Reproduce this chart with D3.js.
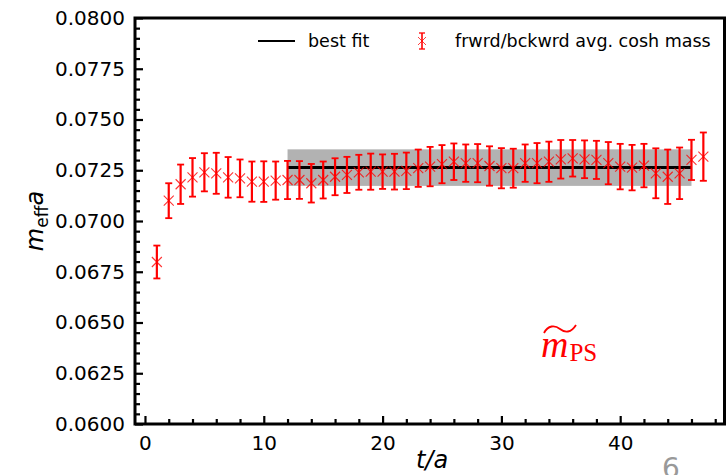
<!DOCTYPE html>
<html>
<head>
<meta charset="utf-8">
<script src="https://cdn.jsdelivr.net/npm/d3@7"></script>
<style>
  html, body { margin: 0; padding: 0; background: #fff; }
  svg { display: block; }
  text { font-family: "DejaVu Sans", sans-serif; }
</style>
</head>
<body>
<svg id="chart" width="728" height="475"></svg>
<script>
// ---- data ----
const tValues = [1,2,3,4,5,6,7,8,9,10,11,12,13,14,15,16,17,18,19,20,21,22,23,24,25,26,27,28,29,30,31,32,33,34,35,36,37,38,39,40,41,42,43,44,45,46,47];
const meffValues = [0.06798,0.0710,0.07181,0.07215,0.0724,0.07235,0.07215,0.0721,0.07194,0.07194,0.07199,0.07202,
  0.07202,0.07186,0.07202,0.07218,0.07227,0.0724,0.07243,0.07243,0.07243,0.07247,0.0726,0.07268,0.0728,
  0.07292,0.07285,0.07285,0.07271,0.0726,0.0726,0.07285,0.07285,0.07292,0.07304,0.07309,0.07304,
  0.07301,0.07285,0.07268,0.07263,0.07273,0.07235,0.07218,0.07235,0.07301,0.07317];
const meffErrors = [0.00081,0.00086,0.00097,0.00095,0.00094,0.00101,0.0010,0.00093,0.00099,0.0010,0.00094,0.00094,
  0.00093,0.00095,0.00091,0.00091,0.00089,0.00086,0.00089,0.00085,0.00088,0.0009,0.00092,0.00097,0.00094,
  0.0009,0.00092,0.00094,0.00097,0.00099,0.00096,0.00092,0.00099,0.00099,0.00095,0.0009,0.00093,
  0.00094,0.00104,0.00112,0.00112,0.00107,0.00123,0.00134,0.00127,0.00099,0.00119];
const fitRange = [12, 46];
const fitValue = 0.07263;
const fitError = 0.0009;
const xTicks = [0,10,20,30,40];
const yTicks = [0.0600,0.0625,0.0650,0.0675,0.0700,0.0725,0.0750,0.0775,0.0800];
const legendLabels = ["best fit", "frwrd/bckwrd avg. cosh mass"];

// ---- layout ----
const svg = d3.select("#chart");
const L = 135, R = 724.5, T = 18, B = 424;
const x = d3.scaleLinear().domain([-0.84, 48.78]).range([L, R]);
const y = d3.scaleLinear().domain([0.06, 0.08]).range([B, T]);

// fit band
svg.append("rect")
  .attr("x", x(fitRange[0])).attr("width", x(fitRange[1]) - x(fitRange[0]))
  .attr("y", y(fitValue + fitError)).attr("height", y(fitValue - fitError) - y(fitValue + fitError))
  .attr("fill", "#b2b2b2");
svg.append("line")
  .attr("x1", x(fitRange[0])).attr("x2", x(fitRange[1]))
  .attr("y1", y(fitValue)).attr("y2", y(fitValue))
  .attr("stroke", "#000").attr("stroke-width", 3);

// data points
const pts = tValues.map((t, i) => ({t, v: meffValues[i], e: meffErrors[i]}));
const g = svg.append("g");
const cap = 3.5, ms = 5;
pts.forEach(d => {
  const cx = x(d.t), cy = y(d.v), y1 = y(d.v + d.e), y2 = y(d.v - d.e);
  g.append("line").attr("x1", cx).attr("x2", cx).attr("y1", y1).attr("y2", y2)
    .attr("stroke", "#ff0000").attr("stroke-width", 2.2);
  [y1, y2].forEach(yy => g.append("line").attr("x1", cx - cap).attr("x2", cx + cap)
    .attr("y1", yy).attr("y2", yy).attr("stroke", "#ff0000").attr("stroke-width", 1.8));
  g.append("path")
    .attr("d", `M${cx-ms},${cy-ms}L${cx+ms},${cy+ms}M${cx-ms},${cy+ms}L${cx+ms},${cy-ms}`)
    .attr("stroke", "#ff0000").attr("stroke-width", 1.1).attr("opacity", 0.8).attr("fill", "none");
});

// axes
const xAxis = d3.axisBottom(x).tickValues(xTicks).tickSize(-8).tickPadding(12).tickFormat(d3.format("d"));
const xMinor = d3.axisBottom(x).tickValues(d3.range(0, 49, 2).filter(v => v % 10 !== 0)).tickSize(-5).tickFormat("");
const yAxis = d3.axisLeft(y).tickValues(yTicks).tickSize(-8).tickPadding(10).tickFormat(d3.format(".4f"));
const yMinor = d3.axisLeft(y).tickValues(d3.range(0, 41).map(i => 0.06 + i * 0.0005).filter((v, i) => i % 5 !== 0)).tickSize(-5).tickFormat("");

function styleAxis(sel) {
  sel.select(".domain").remove();
  sel.selectAll(".tick line").attr("stroke", "#000").attr("stroke-width", 2.2);
  sel.selectAll(".tick text").attr("fill", "#000").style("font-size", "20px").style("font-family", "DejaVu Sans");
}
svg.append("g").attr("transform", `translate(0,${B})`).call(xMinor).call(styleAxis);
svg.append("g").attr("transform", `translate(0,${B})`).call(xAxis).call(styleAxis);
svg.append("g").attr("transform", `translate(${L},0)`).call(yMinor).call(styleAxis);
svg.append("g").attr("transform", `translate(${L},0)`).call(yAxis).call(styleAxis);

// spines
svg.append("rect").attr("x", L).attr("y", T).attr("width", R - L).attr("height", B - T)
  .attr("fill", "none").attr("stroke", "#000").attr("stroke-width", 3);

// axis labels
svg.append("text").attr("x", 432).attr("y", 468).attr("text-anchor", "middle")
  .style("font-size", "24px").style("font-style", "italic").text("t/a");
const yl = svg.append("text").attr("transform", "translate(43,221) rotate(-90)").attr("text-anchor", "middle")
  .style("font-size", "24px");
yl.append("tspan").style("font-style", "italic").text("m");
yl.append("tspan").attr("dy", 5).style("font-size", "17px").text("eff");
yl.append("tspan").attr("dy", -5).style("font-style", "italic").text("a");

// legend
svg.append("line").attr("x1", 258).attr("x2", 295).attr("y1", 41).attr("y2", 41)
  .attr("stroke", "#000").attr("stroke-width", 2.2);
svg.append("text").attr("x", 308).attr("y", 47).style("font-size", "17.5px").text(legendLabels[0]);
const lx = 422, ly = 41;
svg.append("line").attr("x1", lx).attr("x2", lx).attr("y1", ly - 8).attr("y2", ly + 8).attr("stroke", "#ff0000").attr("stroke-width", 1.6);
[ly - 8, ly + 8].forEach(yy => svg.append("line").attr("x1", lx - 3).attr("x2", lx + 3).attr("y1", yy).attr("y2", yy).attr("stroke", "#ff0000").attr("stroke-width", 1.3));
svg.append("path").attr("d", `M${lx-4},${ly-4}L${lx+4},${ly+4}M${lx-4},${ly+4}L${lx+4},${ly-4}`)
  .attr("stroke", "#ff0000").attr("stroke-width", 1).attr("opacity", 0.75);
svg.append("text").attr("x", 455).attr("y", 47).style("font-size", "17.5px").text(legendLabels[1]);

// annotation  m~_PS
const ann = svg.append("text").attr("x", 541).attr("y", 357).attr("fill", "#ff0000")
  .style("font-family", "'Liberation Serif', 'DejaVu Serif', serif").style("font-size", "38px");
ann.append("tspan").style("font-style", "italic").text("m");
ann.append("tspan").attr("dy", 4).attr("dx", 1).style("font-size", "25px").text("PS");
// tilde accent
svg.append("path")
  .attr("d", "M544,333 C548,325 555,325 560,329 C565,333 571,333 576,325")
  .attr("fill", "none").attr("stroke", "#ff0000").attr("stroke-width", 1.8);

// page number fragment
svg.append("text").attr("x", 662).attr("y", 478).attr("fill", "#999")
  .style("font-size", "28px").text("6");
</script>
</body>
</html>
